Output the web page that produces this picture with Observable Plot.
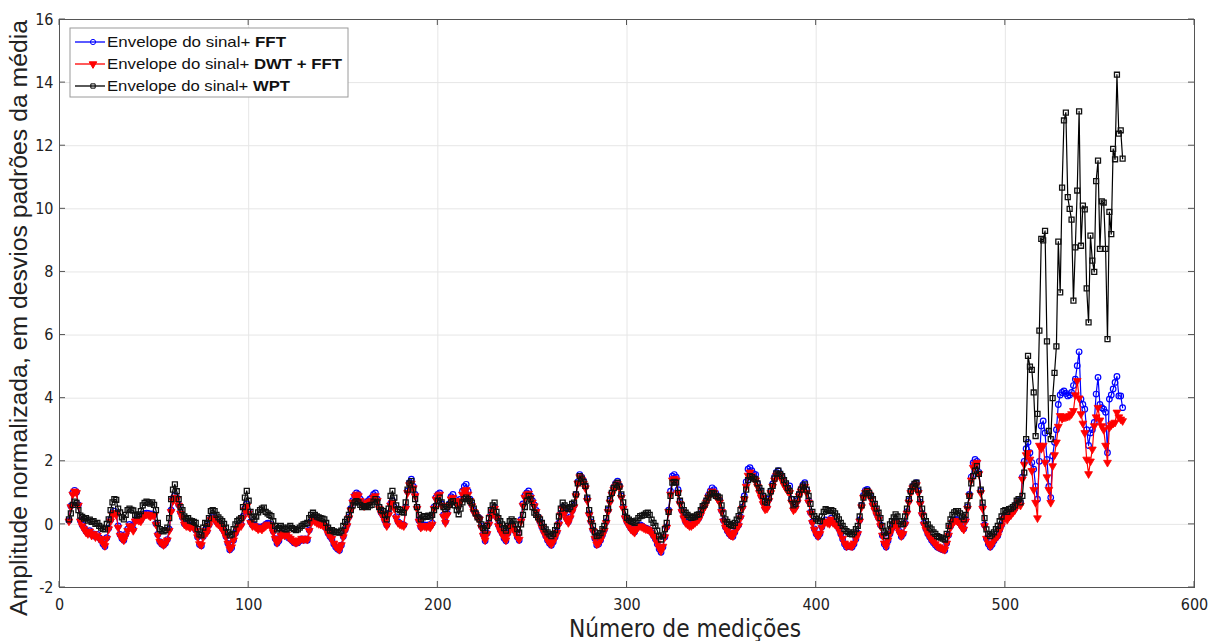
<!DOCTYPE html>
<html><head><meta charset="utf-8">
<script src="https://cdn.jsdelivr.net/npm/d3@7"></script>
<script src="https://cdn.jsdelivr.net/npm/@observablehq/plot@0.6"></script>
<style>
html,body{margin:0;padding:0;background:#fff;}
#chart{position:relative;width:1218px;height:641px;}
</style></head><body><div id="chart"></div>
<script>
// ---------- data ----------
const xStart = 5; // first measurement number
const seriesNames = ["Envelope do sinal+ FFT", "Envelope do sinal+ DWT + FFT", "Envelope do sinal+ WPT"];
const legendSuffix = ["FFT", "DWT + FFT", "WPT"];
const xTicks = [0, 100, 200, 300, 400, 500, 600];
const yTicks = [-2, 0, 2, 4, 6, 8, 10, 12, 14, 16];
const xLabel = "Número de medições";
const yLabel = "Amplitude normalizada, em desvios padrões da média";

const wptY = [
0.16,0.35,0.62,0.72,0.68,0.45,0.28,0.24,0.18,0.2,
0.12,0.15,0.08,0.1,0.02,0.05,-0.05,-0.1,-0.14,-0.16,
0.02,0.16,0.45,0.7,0.8,0.78,0.5,0.38,0.22,0.16,
0.3,0.45,0.5,0.46,0.44,0.3,0.28,0.32,0.42,0.6,
0.68,0.72,0.7,0.66,0.7,0.62,0.45,0.05,-0.15,-0.2,
-0.22,-0.18,-0.1,0.2,0.8,1.1,1.27,1.05,0.8,0.55,
0.45,0.25,0.18,0.2,0.12,0.1,0.08,0.05,-0.15,-0.32,
-0.35,-0.1,0.05,0.02,0.2,0.42,0.45,0.42,0.3,0.22,
0.16,0.1,0.02,-0.1,-0.25,-0.35,-0.32,-0.15,0.0,0.1,
0.15,0.2,0.55,0.85,1.06,0.75,0.4,0.22,0.16,0.25,
0.38,0.45,0.5,0.53,0.4,0.35,0.3,0.26,0.1,-0.05,
-0.16,-0.12,-0.05,-0.1,-0.15,-0.16,-0.1,-0.05,-0.12,-0.15,
-0.18,-0.16,-0.1,-0.05,0.0,0.02,0.05,0.2,0.3,0.37,
0.3,0.25,0.22,0.2,0.18,0.16,0.05,-0.1,-0.2,-0.18,
-0.22,-0.25,-0.24,-0.26,-0.2,-0.05,0.08,0.16,0.3,0.45,
0.6,0.7,0.74,0.7,0.62,0.55,0.58,0.58,0.55,0.6,
0.62,0.72,0.8,0.7,0.55,0.45,0.42,0.3,0.16,0.5,
0.9,1.06,0.85,0.6,0.48,0.45,0.4,0.37,0.7,1.1,
1.3,1.37,1.1,0.8,0.55,0.3,0.16,0.22,0.26,0.24,
0.28,0.25,0.3,0.45,0.58,0.75,0.85,0.7,0.55,0.48,
0.55,0.62,0.7,0.74,0.6,0.45,0.32,0.5,0.7,0.8,
0.85,0.8,0.74,0.69,0.5,0.35,0.22,0.16,0.0,-0.12,
-0.2,-0.05,0.2,0.45,0.6,0.69,0.4,0.2,0.1,0.0,
-0.12,-0.2,-0.05,0.1,0.16,0.1,0.0,-0.15,-0.26,0.0,
0.3,0.55,0.75,0.9,0.8,0.55,0.37,0.3,0.22,0.16,
0.05,-0.08,-0.16,-0.25,-0.32,-0.37,-0.3,-0.18,-0.05,0.25,
0.5,0.69,0.6,0.52,0.48,0.55,0.65,0.69,0.95,1.3,
1.53,1.45,1.35,1.22,0.85,0.45,0.16,-0.05,-0.25,-0.37,
-0.35,-0.28,-0.15,-0.05,0.2,0.5,0.8,1.0,1.15,1.25,
1.32,1.2,0.95,0.7,0.4,0.21,0.15,0.1,0.08,0.05,
0.12,0.2,0.26,0.28,0.3,0.35,0.37,0.3,0.15,0.05,
-0.05,-0.2,-0.38,-0.48,-0.35,-0.15,0.05,0.4,0.9,1.32,
1.35,1.32,1.0,0.75,0.6,0.45,0.37,0.3,0.25,0.21,
0.22,0.25,0.3,0.32,0.45,0.58,0.63,0.75,0.85,0.95,
1.0,0.98,0.9,0.88,0.85,0.6,0.35,0.16,0.08,0.02,
-0.02,-0.05,0.05,0.15,0.26,0.45,0.65,0.8,1.1,1.4,
1.53,1.5,1.45,1.43,1.3,1.15,1.06,0.9,0.72,0.69,
0.85,1.05,1.22,1.45,1.62,1.7,1.6,1.53,1.4,1.3,
1.15,1.06,0.8,0.6,0.65,0.8,0.95,1.1,1.2,1.27,
1.1,0.9,0.65,0.4,0.26,0.18,0.12,0.1,0.25,0.4,
0.48,0.45,0.42,0.45,0.42,0.35,0.25,0.16,0.05,-0.05,
-0.15,-0.21,-0.25,-0.3,-0.32,-0.25,-0.15,-0.05,0.25,0.6,
0.85,0.98,1.06,1.0,0.9,0.8,0.65,0.5,0.37,0.2,
-0.05,-0.25,-0.37,-0.2,0.0,0.1,0.22,0.32,0.25,0.1,
0.0,0.02,0.25,0.5,0.8,1.05,1.2,1.28,1.32,1.1,
0.8,0.5,0.25,0.1,0.0,-0.1,-0.16,-0.25,-0.3,-0.37,
-0.4,-0.42,-0.45,-0.48,-0.3,-0.05,0.16,0.3,0.38,0.42,
0.42,0.35,0.25,0.16,0.3,0.6,0.9,1.3,1.53,1.7,
1.85,1.6,1.1,0.69,0.2,-0.16,-0.3,-0.37,-0.32,-0.25,
-0.15,-0.05,0.1,0.25,0.42,0.45,0.4,0.48,0.5,0.55,
0.6,0.75,0.8,0.7,0.9,1.64,2.7,5.34,5.0,4.9,
4.18,2.8,3.5,6.14,9.05,9.0,9.3,5.8,2.96,2.7,
4.0,4.8,5.64,8.96,7.35,10.67,12.8,13.05,10.37,10.0,
9.66,7.09,8.78,10.58,13.09,8.83,10.1,9.98,7.48,6.4,
9.15,8.36,8.0,10.88,11.53,8.73,10.24,10.2,8.73,5.87,
9.9,9.2,11.9,11.57,14.25,12.38,12.49,11.59
];

const dwtY = [
0.1,0.55,0.95,1.05,1.0,0.6,0.1,-0.05,-0.15,-0.25,
-0.3,-0.22,-0.35,-0.3,-0.4,-0.35,-0.45,-0.5,-0.6,-0.68,
-0.45,-0.15,0.1,0.3,0.37,0.3,-0.1,-0.35,-0.45,-0.5,
-0.35,-0.2,-0.05,-0.1,-0.2,0.1,0.15,0.12,0.1,0.2,
0.3,0.32,0.3,0.25,0.3,0.28,0.0,-0.35,-0.55,-0.6,
-0.65,-0.6,-0.5,-0.2,0.4,0.75,0.85,0.8,0.6,0.35,
0.2,0.0,-0.05,-0.05,-0.1,-0.05,-0.1,-0.2,-0.4,-0.62,
-0.65,-0.4,-0.2,-0.25,-0.05,0.15,0.2,0.18,0.05,0.0,
-0.05,-0.15,-0.25,-0.4,-0.6,-0.78,-0.72,-0.5,-0.3,-0.15,
-0.08,-0.05,0.2,0.45,0.58,0.35,0.05,-0.05,-0.05,-0.1,
-0.15,-0.12,-0.16,-0.1,-0.05,0.0,-0.02,-0.05,-0.25,-0.45,
-0.58,-0.5,-0.35,-0.3,-0.35,-0.32,-0.4,-0.45,-0.5,-0.55,
-0.58,-0.55,-0.5,-0.45,-0.48,-0.45,-0.48,-0.2,0.05,0.16,
0.1,0.05,0.02,0.0,-0.02,-0.05,-0.15,-0.3,-0.37,-0.45,
-0.6,-0.7,-0.75,-0.8,-0.65,-0.4,-0.2,-0.05,0.2,0.45,
0.7,0.88,0.95,0.9,0.75,0.6,0.58,0.65,0.69,0.72,
0.75,0.85,0.9,0.75,0.5,0.35,0.26,0.1,-0.05,0.3,
0.6,0.69,0.5,0.2,0.05,0.0,-0.02,-0.05,0.5,1.0,
1.25,1.3,1.15,0.9,0.5,0.1,-0.1,-0.05,-0.05,-0.08,
-0.05,-0.1,0.0,0.5,0.8,0.9,0.95,0.6,0.25,0.05,
0.3,0.6,0.8,0.85,0.75,0.65,0.58,0.75,0.95,1.05,
1.1,0.95,0.75,0.58,0.4,0.3,0.2,0.16,-0.1,-0.35,
-0.5,-0.3,0.0,0.25,0.4,0.5,0.2,-0.05,-0.2,-0.3,
-0.42,-0.5,-0.3,-0.1,-0.05,-0.15,-0.25,-0.4,-0.48,0.1,
0.6,0.85,0.95,0.98,0.85,0.7,0.58,0.4,0.2,0.05,
-0.1,-0.25,-0.37,-0.5,-0.58,-0.63,-0.55,-0.4,-0.26,0.0,
0.3,0.5,0.35,0.15,0.05,0.2,0.4,0.55,0.9,1.3,
1.5,1.42,1.3,1.15,0.75,0.3,0.05,-0.2,-0.45,-0.63,
-0.6,-0.5,-0.35,-0.2,0.05,0.4,0.7,0.95,1.1,1.2,
1.28,1.15,0.85,0.5,0.2,0.05,-0.05,-0.15,-0.2,-0.26,
-0.15,-0.08,-0.05,-0.08,-0.12,-0.15,-0.16,-0.2,-0.28,-0.37,
-0.45,-0.6,-0.75,-0.85,-0.7,-0.4,-0.1,0.4,0.95,1.4,
1.45,1.4,1.0,0.65,0.4,0.2,0.05,0.0,-0.05,-0.05,
0.0,0.05,0.1,0.16,0.3,0.45,0.55,0.7,0.85,0.95,
1.05,1.0,0.9,0.8,0.7,0.4,0.1,-0.1,-0.2,-0.3,
-0.35,-0.37,-0.25,-0.12,-0.05,0.2,0.5,0.8,1.2,1.55,
1.65,1.55,1.45,1.4,1.2,1.0,0.85,0.65,0.48,0.5,
0.75,1.0,1.2,1.4,1.55,1.6,1.5,1.4,1.25,1.15,
1.05,1.0,0.7,0.45,0.5,0.7,0.9,1.05,1.15,1.2,
1.0,0.7,0.35,0.05,-0.16,-0.3,-0.37,-0.3,-0.1,0.05,
0.1,0.05,0.02,0.16,0.05,0.0,-0.05,-0.16,-0.3,-0.45,
-0.6,-0.69,-0.65,-0.68,-0.69,-0.6,-0.45,-0.3,0.1,0.55,
0.85,1.0,1.05,0.95,0.8,0.6,0.45,0.3,0.16,-0.05,
-0.35,-0.6,-0.69,-0.5,-0.3,-0.15,0.0,0.05,-0.1,-0.25,
-0.37,-0.3,0.0,0.35,0.7,1.0,1.15,1.2,1.25,1.0,
0.65,0.3,0.0,-0.16,-0.3,-0.4,-0.48,-0.55,-0.62,-0.69,
-0.72,-0.75,-0.78,-0.8,-0.6,-0.35,-0.1,0.05,0.1,0.12,
0.1,0.0,-0.1,-0.16,0.1,0.5,0.9,1.4,1.8,1.9,
1.96,1.6,1.0,0.5,-0.05,-0.45,-0.6,-0.69,-0.62,-0.5,
-0.42,-0.37,-0.2,-0.05,0.16,0.2,0.15,0.25,0.3,0.38,
0.45,0.6,0.7,0.6,1.43,1.9,2.2,2.27,2.06,1.7,
1.1,0.69,0.2,2.5,2.4,2.5,1.96,1.5,1.1,0.69,
1.85,2.2,2.6,3.1,3.44,3.35,3.39,3.4,3.42,3.44,
3.5,3.6,4.1,4.55,4.0,3.5,3.2,2.9,2.06,1.6,
2.0,2.38,3.12,3.4,3.7,3.3,3.12,3.0,2.5,1.96,
3.07,3.15,3.2,3.23,3.55,3.4,3.33,3.28
];

const fftY = [
0.12,0.58,1.0,1.08,1.02,0.62,0.12,-0.02,-0.12,-0.22,
-0.28,-0.2,-0.32,-0.3,-0.38,-0.32,-0.42,-0.5,-0.62,-0.7,
-0.42,-0.12,0.15,0.35,0.42,0.34,-0.05,-0.32,-0.45,-0.5,
-0.32,-0.15,0.0,-0.05,-0.15,0.12,0.18,0.15,0.14,0.24,
0.34,0.36,0.35,0.3,0.33,0.3,0.02,-0.32,-0.55,-0.62,
-0.66,-0.6,-0.48,-0.15,0.45,0.82,0.92,0.85,0.62,0.38,
0.22,0.02,-0.02,-0.02,-0.08,-0.02,-0.08,-0.18,-0.4,-0.64,
-0.68,-0.38,-0.18,-0.22,-0.02,0.18,0.24,0.2,0.08,0.02,
-0.02,-0.12,-0.22,-0.38,-0.6,-0.8,-0.74,-0.5,-0.28,-0.12,
-0.05,0.0,0.25,0.5,0.65,0.4,0.08,-0.02,-0.02,-0.06,
-0.12,-0.08,-0.12,-0.05,0.0,0.04,0.02,-0.02,-0.22,-0.45,
-0.6,-0.52,-0.35,-0.28,-0.34,-0.32,-0.42,-0.46,-0.52,-0.58,
-0.6,-0.58,-0.52,-0.46,-0.5,-0.46,-0.5,-0.18,0.08,0.2,
0.14,0.08,0.05,0.02,0.0,-0.02,-0.12,-0.28,-0.38,-0.46,
-0.62,-0.72,-0.78,-0.82,-0.66,-0.38,-0.18,-0.02,0.24,0.5,
0.75,0.92,1.0,0.95,0.8,0.64,0.62,0.7,0.74,0.8,
0.85,0.95,1.0,0.8,0.55,0.38,0.28,0.12,-0.02,0.35,
0.65,0.75,0.55,0.24,0.08,0.02,0.0,-0.02,0.55,1.05,
1.32,1.43,1.2,0.95,0.55,0.12,-0.08,-0.02,-0.02,-0.05,
-0.02,-0.06,0.04,0.55,0.85,0.95,1.0,0.65,0.3,0.08,
0.35,0.65,0.88,0.95,0.8,0.7,0.62,0.8,1.05,1.2,
1.27,1.05,0.8,0.62,0.44,0.34,0.24,0.2,-0.06,-0.32,
-0.52,-0.28,0.04,0.3,0.45,0.55,0.24,-0.02,-0.18,-0.28,
-0.44,-0.52,-0.28,-0.08,-0.02,-0.12,-0.22,-0.4,-0.5,0.15,
0.65,0.9,1.0,1.06,0.9,0.75,0.62,0.44,0.24,0.08,
-0.08,-0.22,-0.36,-0.5,-0.6,-0.66,-0.56,-0.4,-0.24,0.04,
0.35,0.55,0.4,0.2,0.08,0.24,0.44,0.6,0.95,1.35,
1.58,1.5,1.38,1.2,0.8,0.34,0.08,-0.18,-0.45,-0.65,
-0.62,-0.5,-0.34,-0.18,0.08,0.45,0.75,1.0,1.18,1.3,
1.37,1.22,0.9,0.55,0.24,0.08,-0.02,-0.12,-0.18,-0.24,
-0.12,-0.05,-0.02,-0.05,-0.1,-0.12,-0.14,-0.18,-0.26,-0.36,
-0.46,-0.62,-0.78,-0.88,-0.72,-0.4,-0.08,0.45,1.05,1.53,
1.58,1.5,1.1,0.7,0.44,0.24,0.08,0.04,-0.02,-0.02,
0.04,0.08,0.14,0.2,0.34,0.5,0.6,0.75,0.92,1.05,
1.16,1.1,0.98,0.85,0.75,0.44,0.12,-0.08,-0.2,-0.3,
-0.36,-0.38,-0.25,-0.1,-0.02,0.24,0.55,0.9,1.35,1.75,
1.8,1.7,1.6,1.58,1.3,1.08,0.9,0.7,0.52,0.55,
0.8,1.05,1.28,1.5,1.65,1.7,1.6,1.5,1.35,1.22,
1.15,1.22,0.8,0.5,0.55,0.75,0.95,1.12,1.25,1.32,
1.08,0.75,0.38,0.08,-0.14,-0.3,-0.38,-0.3,-0.08,0.08,
0.14,0.08,0.05,0.2,0.08,0.02,-0.02,-0.14,-0.3,-0.46,
-0.62,-0.72,-0.68,-0.7,-0.72,-0.62,-0.46,-0.28,0.14,0.6,
0.92,1.08,1.11,1.0,0.85,0.65,0.5,0.34,0.2,-0.02,
-0.35,-0.62,-0.72,-0.52,-0.3,-0.12,0.04,0.1,-0.06,-0.22,
-0.38,-0.3,0.04,0.4,0.75,1.05,1.2,1.28,1.32,1.05,
0.7,0.34,0.04,-0.14,-0.3,-0.4,-0.5,-0.58,-0.65,-0.72,
-0.75,-0.78,-0.8,-0.82,-0.6,-0.34,-0.06,0.08,0.14,0.16,
0.14,0.04,-0.06,-0.14,0.14,0.55,0.95,1.5,1.95,2.06,
2.0,1.65,1.05,0.55,-0.02,-0.45,-0.62,-0.72,-0.64,-0.52,
-0.42,-0.36,-0.18,-0.02,0.2,0.24,0.2,0.3,0.35,0.42,
0.5,0.65,0.75,0.7,1.5,2.0,2.4,2.6,2.27,1.96,
1.75,1.2,0.8,2.0,3.12,3.28,2.9,2.06,1.2,0.85,
2.17,2.6,3.0,3.8,4.1,4.18,4.23,4.15,4.07,4.1,
4.18,4.4,4.6,5.03,5.47,3.97,3.8,3.65,3.0,2.5,
2.9,3.0,3.23,4.13,4.66,3.8,3.7,3.65,3.55,2.27,
3.97,4.1,4.29,4.5,4.69,4.07,4.07,3.7
];

// ---------- build ----------
const toRows = (arr) => arr.map((v, i) => ({x: xStart + i, y: v}));
const fftData = toRows(fftY), dwtData = toRows(dwtY), wptData = toRows(wptY);

const triangleDown = {
  draw(context, size) {
    const y = -Math.sqrt(size / (Math.sqrt(3) * 3));
    const s3 = Math.sqrt(3);
    context.moveTo(0, -y * 2);
    context.lineTo(-s3 * y, y);
    context.lineTo(s3 * y, y);
    context.closePath();
  }
};

const colors = ["#0000ff", "#ff0000", "#000000"];
const W = 1218, H = 641;
const mL = 59, mR = 24, mT = 19, mB = 54;
const tickFont = "'Liberation Sans Narrow', 'DejaVu Sans Condensed', 'Liberation Sans', sans-serif";
const mainFont = "'Liberation Sans', Arial, sans-serif";

const plot = Plot.plot({
  width: W, height: H,
  marginLeft: mL, marginRight: mR, marginTop: mT, marginBottom: mB,
  style: {background: "#fff", fontFamily: mainFont, overflow: "visible"},
  x: {domain: [0, 600], ticks: xTicks, label: null},
  y: {domain: [-2, 16], ticks: yTicks, label: null},
  marks: [
    Plot.gridX(xTicks, {stroke: "#e6e6e6", strokeOpacity: 1}),
    Plot.gridY(yTicks, {stroke: "#e6e6e6", strokeOpacity: 1}),
    Plot.axisX(xTicks, {tickSize: 0, tickPadding: 11, fontSize: 16, fontFamily: tickFont, fill: "#222", tickFormat: d => String(d)}),
    Plot.axisY(yTicks, {tickSize: 0, tickPadding: 6, fontSize: 16, fontFamily: tickFont, fill: "#222", tickFormat: d => String(d).replace("\u2212", "-")}),
    Plot.line(fftData, {x: "x", y: "y", stroke: colors[0], strokeWidth: 1.2}),
    Plot.dot(fftData, {x: "x", y: "y", symbol: "circle", r: 2.8, stroke: colors[0], fill: "none", strokeWidth: 1.2}),
    Plot.line(dwtData, {x: "x", y: "y", stroke: colors[1], strokeWidth: 1.2}),
    Plot.dot(dwtData, {x: "x", y: "y", symbol: triangleDown, r: 2.9, stroke: colors[1], fill: colors[1], strokeWidth: 0.8}),
    Plot.line(wptData, {x: "x", y: "y", stroke: colors[2], strokeWidth: 1.2}),
    Plot.dot(wptData, {x: "x", y: "y", symbol: "square", r: 2.8, stroke: "#111", fill: "none", strokeWidth: 1.3}),
    Plot.frame({stroke: "#555", strokeWidth: 1})
  ]
});

const svg = d3.select(plot);
const sx = plot.scale("x"), sy = plot.scale("y");
const x0 = mL, x1 = W - mR, y0 = mT, y1 = H - mB;
const tk = 6;
const tg = svg.append("g").attr("stroke", "#555").attr("stroke-width", 1);
xTicks.forEach(t => {
  const px = sx.apply(t);
  tg.append("line").attr("x1", px).attr("x2", px).attr("y1", y1).attr("y2", y1 - tk);
  tg.append("line").attr("x1", px).attr("x2", px).attr("y1", y0).attr("y2", y0 + tk);
});
yTicks.forEach(t => {
  const py = sy.apply(t);
  tg.append("line").attr("y1", py).attr("y2", py).attr("x1", x0).attr("x2", x0 + tk);
  tg.append("line").attr("y1", py).attr("y2", py).attr("x1", x1).attr("x2", x1 - tk);
});

// axis titles
svg.append("text").attr("x", 685).attr("y", 637).attr("text-anchor", "middle")
  .attr("font-family", tickFont).attr("font-size", 24).attr("fill", "#222")
  .attr("textLength", 232).attr("lengthAdjust", "spacingAndGlyphs").text(xLabel);
svg.append("text").attr("transform", "translate(27,318) rotate(-90)").attr("text-anchor", "middle")
  .attr("font-family", mainFont).attr("font-size", 23).attr("fill", "#222")
  .attr("textLength", 596).attr("lengthAdjust", "spacingAndGlyphs").text(yLabel);

// legend
const lg = svg.append("g").attr("text-anchor", "start");
lg.append("rect").attr("x", 70).attr("y", 28).attr("width", 278).attr("height", 69)
  .attr("fill", "#fff").attr("stroke", "#9a9a9a").attr("stroke-width", 1);
const rowsY = [42, 64, 86];
const legendW = [179, 235, 183];
const symGen = [d3.symbol(d3.symbolCircle, Math.PI * 2.6 * 2.6), d3.symbol(triangleDown, Math.PI * 2.8 * 2.8), d3.symbol(d3.symbolSquare, Math.PI * 2.4 * 2.4)];
seriesNames.forEach((name, i) => {
  const yy = rowsY[i];
  lg.append("line").attr("x1", 75).attr("x2", 105).attr("y1", yy).attr("y2", yy)
    .attr("stroke", colors[i]).attr("stroke-width", 1.3);
  lg.append("path").attr("d", symGen[i]()).attr("transform", `translate(93,${yy})`)
    .attr("stroke", colors[i]).attr("fill", i === 1 ? colors[i] : "none").attr("stroke-width", 1);
  const base = name.slice(0, name.length - legendSuffix[i].length);
  const t = lg.append("text").attr("x", 107).attr("y", yy + 5).attr("font-size", 14.5)
    .attr("text-anchor", "start")
    .attr("font-family", mainFont).attr("fill", "#111")
    .attr("textLength", legendW[i]).attr("lengthAdjust", "spacingAndGlyphs");
  t.append("tspan").text(base);
  t.append("tspan").attr("font-weight", "bold").text(legendSuffix[i]);
});

document.getElementById("chart").appendChild(plot);
</script></body></html>
